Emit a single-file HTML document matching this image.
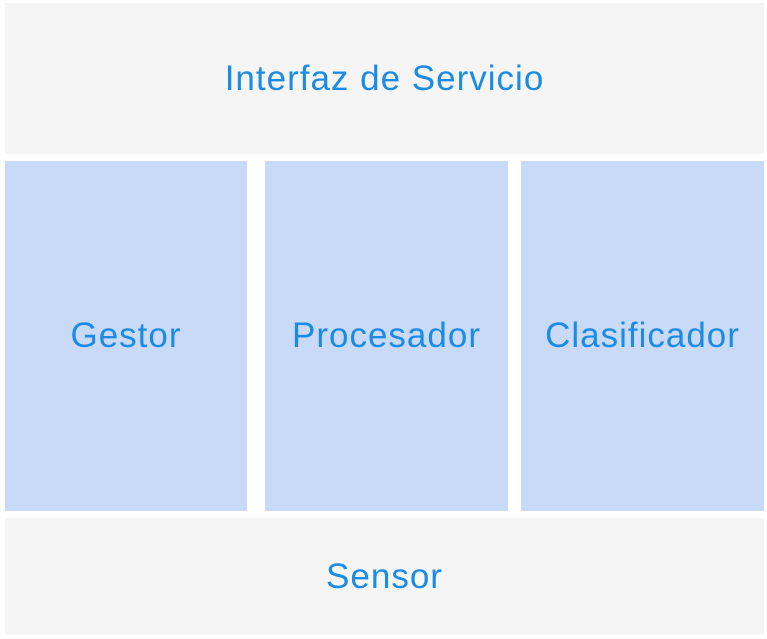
<!DOCTYPE html>
<html><head><meta charset="utf-8"><style>
body{margin:0;width:767px;height:639px;background:#fff;position:relative;overflow:hidden;font-family:"Liberation Sans",sans-serif}
.b{position:absolute;display:flex;align-items:center;justify-content:center;color:#1c8be3;font-size:35px;letter-spacing:1px}
.g{background:#f5f5f5}.u{background:#c9daf8}
</style></head><body>
<div class="b g" style="left:5px;top:3px;width:759px;height:151px">Interfaz de Servicio</div>
<div class="b u" style="left:5px;top:161px;width:242px;height:350px">Gestor</div>
<div class="b u" style="left:265px;top:161px;width:243px;height:350px">Procesador</div>
<div class="b u" style="left:521px;top:161px;width:243px;height:350px">Clasificador</div>
<div class="b g" style="left:5px;top:518px;width:759px;height:117px">Sensor</div>
</body></html>
